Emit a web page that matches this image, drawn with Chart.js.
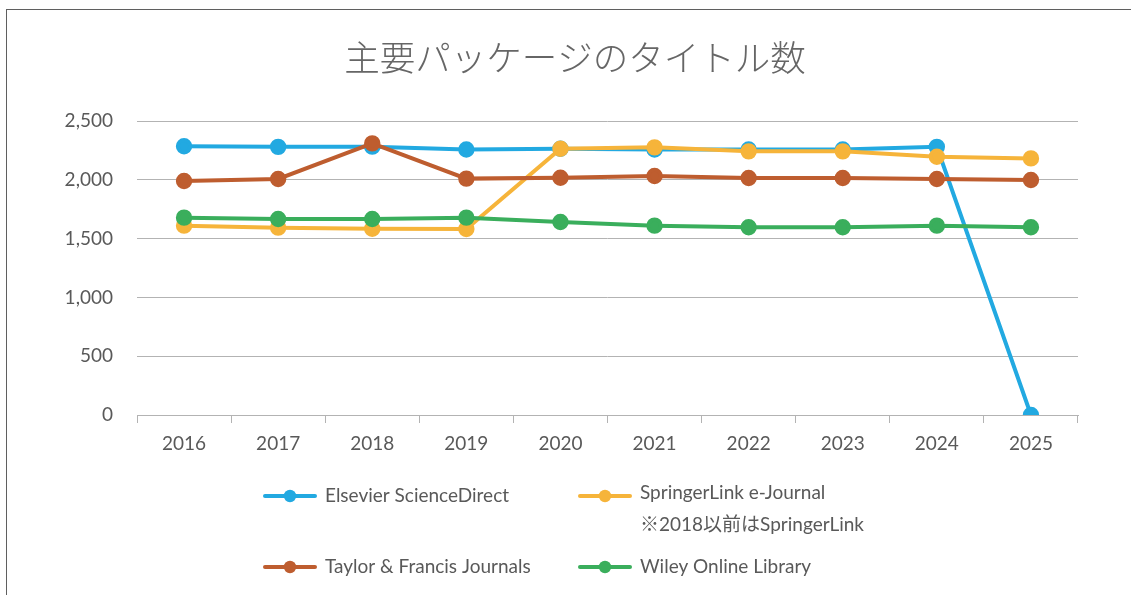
<!DOCTYPE html>
<html>
<head>
<meta charset="utf-8">
<script src="https://cdn.jsdelivr.net/npm/chart.js@4"></script>
<style>
  html, body { margin: 0; padding: 0; background: #fff; overflow: hidden; }
  #wrap { position: relative; width: 1131px; height: 595px; }
</style>
</head>
<body>
<div id="wrap"><canvas id="chart"></canvas></div>
<script>
// data
const years = ['2016', '2017', '2018', '2019', '2020', '2021', '2022', '2023', '2024', '2025'];
const elsevier = [2285, 2280, 2282, 2258, 2264, 2258, 2258, 2258, 2280, 0];
const springer = [1610, 1593, 1584, 1581, 2264, 2276, 2242, 2242, 2196, 2182];
const taylor = [1990, 2007, 2310, 2010, 2018, 2032, 2015, 2015, 2007, 1998];
const wiley = [1678, 1667, 1667, 1678, 1641, 1610, 1596, 1596, 1610, 1596];
const yTicks = [0, 500, 1000, 1500, 2000, 2500];

const titleText = '主要パッケージのタイトル数';
const legendText = [
  ['Elsevier ScienceDirect'],
  ['SpringerLink e-Journal', '※2018以前はSpringerLink'],
  ['Taylor & Francis Journals'],
  ['Wiley Online Library']
];

const textColor = '#595959';
const gridColor = '#b3b3b3';
const font = "Lato, 'Noto Sans CJK JP', sans-serif";

function series(label, data, color, order) {
  return {
    label: label,
    data: data,
    borderColor: color,
    backgroundColor: color,
    pointBackgroundColor: color,
    pointBorderColor: color,
    borderWidth: 4,
    pointRadius: 6.2,
    pointHoverRadius: 6.2,
    tension: 0,
    order: order
  };
}

// frame, title and the two-column legend
const decor = {
  id: 'decor',
  beforeDraw(chart) {
    const c = chart.ctx;
    c.save();
    c.fillStyle = '#fff';
    c.fillRect(0, 0, chart.width, chart.height);
    c.strokeStyle = '#5f5f5f';
    c.lineWidth = 1;
    c.strokeRect(6.5, 9.5, chart.width + 20, chart.height + 20);
    c.restore();
  },
  afterDraw(chart) {
    const c = chart.ctx;
    c.save();
    c.fillStyle = '#666';
    c.textAlign = 'center';
    c.textBaseline = 'middle';
    c.font = "300 35.5px 'Noto Sans CJK JP', sans-serif";
    c.fillText(titleText, 575, 58);

    const spots = [[265, 496], [580, 496], [265, 567], [580, 567]];
    c.font = '19px ' + font;
    c.textAlign = 'left';
    chart.data.datasets.forEach((ds, i) => {
      const [x, y] = spots[i];
      c.strokeStyle = ds.borderColor;
      c.lineWidth = 4;
      c.lineCap = 'round';
      c.beginPath();
      c.moveTo(x, y);
      c.lineTo(x + 50, y);
      c.stroke();
      c.fillStyle = ds.borderColor;
      c.beginPath();
      c.arc(x + 25, y, 6.2, 0, Math.PI * 2);
      c.fill();
      c.fillStyle = textColor;
      legendText[i].forEach((t, k) => {
        c.fillText(t, x + 60, y - (legendText[i].length > 1 ? 3 : 0) + k * 32);
      });
    });
    c.restore();
  }
};

new Chart(document.getElementById('chart'), {
  type: 'line',
  data: {
    labels: years,
    datasets: [
      series('Elsevier ScienceDirect', elsevier, '#22a9e1', 4),
      series('SpringerLink e-Journal', springer, '#f6b43a', 3),
      series('Taylor & Francis Journals', taylor, '#be5d2f', 2),
      series('Wiley Online Library', wiley, '#3aae5c', 1)
    ]
  },
  options: {
    responsive: true,
    maintainAspectRatio: false,
    animation: false,
    layout: { padding: { top: 121, right: 53, bottom: 0, left: 0 } },
    plugins: {
      legend: { display: false },
      title: { display: false },
      tooltip: { enabled: false }
    },
    scales: {
      x: {
        offset: true,
        grid: { offset: true, drawOnChartArea: false, color: gridColor, tickLength: 8 },
        border: { color: gridColor },
        ticks: { color: textColor, font: { family: font, size: 19 }, padding: 9 },
        afterFit(scale) { scale.height = 180; }
      },
      y: {
        min: 0,
        max: 2500,
        afterBuildTicks(scale) { scale.ticks = yTicks.map(v => ({ value: v })); },
        grid: { color: gridColor, drawTicks: false },
        border: { display: false },
        ticks: {
          color: textColor,
          font: { family: font, size: 19 },
          padding: 24,
          callback: v => v.toLocaleString('en-US')
        },
        afterFit(scale) { scale.width = 137; }
      }
    }
  },
  plugins: [decor]
});
</script>
</body>
</html>
